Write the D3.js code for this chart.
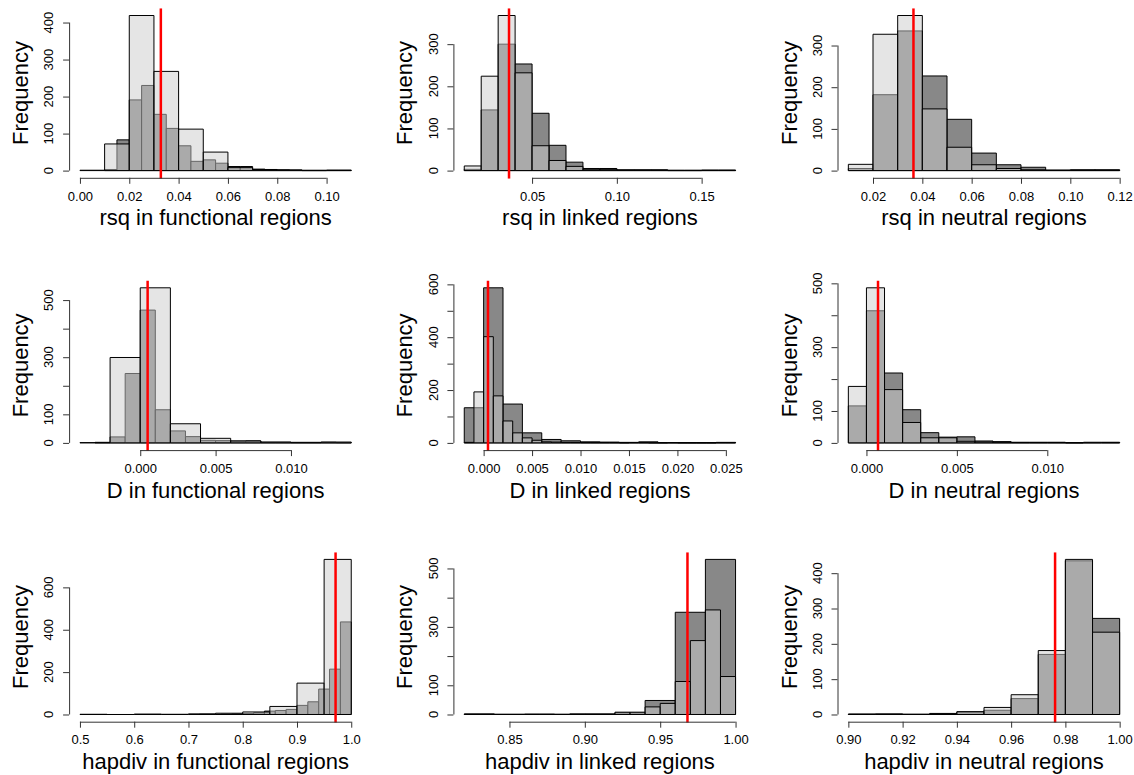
<!DOCTYPE html>
<html>
<head>
<meta charset="utf-8">
<script src="https://cdn.jsdelivr.net/npm/d3@7"></script>
<style>
  body { margin: 0; background: #fff; }
  svg { display: block; }
  text { font-family: "Liberation Sans", Arial, Helvetica, sans-serif; fill: #000; }
</style>
</head>
<body>
<svg id="chart" width="1134" height="775"></svg>
<script>
// ---- Bin counts (frequency per bin). "Light" is drawn on top, semi-transparent. ----
// rsq
const rsqFunctionalLight = [1, 72, 419, 268, 112, 50, 8, 3, 2, 1, 1];             // 0.00 by 0.01
const rsqFunctionalDark  = [3, 83, 191, 230, 152, 114, 67, 25, 29, 20, 11, 11, 4, 3, 2, 1, 0, 0, 1, 1]; // 0.01 by 0.005
const rsqLinkedLight     = [11, 224, 368, 232, 59, 24, 10, 2, 3, 1, 1, 1, 0, 0, 1, 1]; // 0.01 by 0.01
const rsqLinkedDark      = [3, 144, 300, 253, 136, 60, 20, 5, 5, 2, 2, 2, 1, 1, 1, 1];
const rsqNeutralLight    = [15, 327, 372, 148, 56, 14, 5, 2, 1, 1, 1];             // 0.01 by 0.01
const rsqNeutralDark     = [5, 182, 335, 227, 123, 42, 14, 8, 1, 2, 2];
// D
const dFunctionalLight   = [1, 299, 543, 67, 16, 7, 3, 2, 3];                      // -0.004 by 0.002
const dFunctionalDark    = [2, 21, 243, 465, 116, 42, 22, 9, 8, 6, 7, 2, 2, 1, 1, 2, 1]; // -0.003 by 0.001
const dLinkedLight       = [2, 193, 402, 178, 83, 38, 19, 10, 4, 3, 2, 2, 1, 1, 1, 1, 0, 1, 1, 0, 0, 1, 0, 0, 0, 0, 1, 1]; // -0.002 by 0.001
const dLinkedDark        = [133, 587, 147, 38, 13, 8, 4, 3, 2, 4, 1, 1, 1, 2];     // -0.002 by 0.002
const dNeutralLight      = [177, 486, 167, 64, 16, 16, 5, 3, 2, 1, 1, 1, 0, 2, 1]; // -0.001 by 0.001
const dNeutralDark       = [116, 414, 219, 104, 32, 18, 19, 6, 4, 2, 2, 2, 1, 1, 2];
// hapdiv
const hapFunctionalLight = [1, 0, 2, 1, 3, 6, 12, 38, 148, 732];                   // 0.50 by 0.05
const hapFunctionalDark  = [1, 1, 2, 3, 4, 8, 16, 19, 24, 43, 60, 120, 214, 437];  // 0.72 by 0.02
const hapLinkedLight     = [1, 1, 0, 0, 1, 1, 0, 2, 1, 1, 8, 8, 26, 38, 113, 253, 358, 130]; // 0.82 by 0.01
const hapLinkedDark      = [2, 1, 1, 1, 2, 6, 48, 350, 531];                       // 0.82 by 0.02
const hapNeutralLight    = [1, 2, 0, 2, 8, 20, 56, 181, 439, 233];                 // 0.90 by 0.01
const hapNeutralDark     = [1, 0, 1, 3, 7, 12, 45, 170, 435, 272];

// Reference value marked in red on each panel
const markValues = [0.0328, 0.0364, 0.0364, 0.00049, 0.00045, 0.00064, 0.9711, 0.9681, 0.9762];

// Axis titles
const xTitles = [
  "rsq in functional regions", "rsq in linked regions", "rsq in neutral regions",
  "D in functional regions", "D in linked regions", "D in neutral regions",
  "hapdiv in functional regions", "hapdiv in linked regions", "hapdiv in neutral regions"
];

// Tick labels
const xTickLabels = [
  ["0.00", "0.02", "0.04", "0.06", "0.08", "0.10"],
  ["0.05", "0.10", "0.15"],
  ["0.02", "0.04", "0.06", "0.08", "0.10", "0.12"],
  ["0.000", "0.005", "0.010"],
  ["0.000", "0.005", "0.010", "0.015", "0.020", "0.025"],
  ["0.000", "0.005", "0.010"],
  ["0.5", "0.6", "0.7", "0.8", "0.9", "1.0"],
  ["0.85", "0.90", "0.95", "1.00"],
  ["0.90", "0.92", "0.94", "0.96", "0.98", "1.00"]
];
const yTicks = [
  [0, 100, 200, 300, 400],
  [0, 100, 200, 300],
  [0, 100, 200, 300],
  [0, 100, 200, 300, 400, 500],
  [0, 100, 200, 300, 400, 500, 600],
  [0, 100, 200, 300, 400, 500],
  [0, 200, 400, 600],
  [0, 100, 200, 300, 400, 500],
  [0, 100, 200, 300, 400]
];
const yTickLabels = [
  ["0", "100", "200", "300", "400"],
  ["0", "100", "200", "300"],
  ["0", "100", "200", "300"],
  ["0", "100", "300", "500"],
  ["0", "200", "400", "600"],
  ["0", "100", "300", "500"],
  ["0", "200", "400", "600"],
  ["0", "100", "300", "500"],
  ["0", "100", "200", "300", "400"]
];

// Histogram break specifications (first break, bin width) per series
const panels = [
  { light: [0.00, 0.01, rsqFunctionalLight],   dark: [0.01, 0.005, rsqFunctionalDark] },
  { light: [0.01, 0.01, rsqLinkedLight],       dark: [0.01, 0.01, rsqLinkedDark] },
  { light: [0.01, 0.01, rsqNeutralLight],      dark: [0.01, 0.01, rsqNeutralDark] },
  { light: [-0.004, 0.002, dFunctionalLight],  dark: [-0.003, 0.001, dFunctionalDark] },
  { light: [-0.002, 0.001, dLinkedLight],      dark: [-0.002, 0.002, dLinkedDark] },
  { light: [-0.001, 0.001, dNeutralLight],     dark: [-0.001, 0.001, dNeutralDark] },
  { light: [0.50, 0.05, hapFunctionalLight],   dark: [0.72, 0.02, hapFunctionalDark] },
  { light: [0.82, 0.01, hapLinkedLight],       dark: [0.82, 0.02, hapLinkedDark] },
  { light: [0.90, 0.01, hapNeutralLight],      dark: [0.90, 0.01, hapNeutralDark] }
].map((p, i) => ({ ...p, title: xTitles[i], mark: markValues[i],
  xTicks: xTickLabels[i], yTicks: yTicks[i], yLabels: yTickLabels[i] }));

// ---- Layout ----
const colLeft = [69.1, 453.4, 837.5];
const rowTop = [9.3, 281.6, 553.2];
const plotW = 293, plotH = 167.5;

const svg = d3.select("#chart");
const defs = svg.append("defs");

function toBins(spec) {
  const [start, step, counts] = spec;
  return counts.map((c, k) => ({
    x0: +(start + k * step).toFixed(6),
    x1: +(start + (k + 1) * step).toFixed(6),
    n: c
  }));
}

panels.forEach((p, i) => {
  const left = colLeft[i % 3], top = rowTop[Math.floor(i / 3)];
  const right = left + plotW, bottom = top + plotH;

  const lightBins = toBins(p.light), darkBins = toBins(p.dark);
  const all = lightBins.concat(darkBins);
  const lo = d3.min(all, d => d.x0), hi = d3.max(all, d => d.x1);
  const pad = (hi - lo) * 0.04;
  const x = d3.scaleLinear().domain([lo - pad, hi + pad]).range([left, right]);
  const ymax = d3.max(all, d => d.n);
  const y = d3.scaleLinear().domain([-0.04 * ymax, 1.04 * ymax]).range([bottom, top]);

  const clipId = "clip" + i;
  defs.append("clipPath").attr("id", clipId)
    .append("rect").attr("x", left - 1).attr("y", top - 1)
    .attr("width", plotW + 2).attr("height", plotH + 3);

  const g = svg.append("g");
  const plot = g.append("g").attr("clip-path", `url(#${clipId})`);

  const barPath = d => {
    const pth = d3.path();
    pth.moveTo(x(d.x0), y(0));
    pth.lineTo(x(d.x0), y(d.n));
    pth.lineTo(x(d.x1), y(d.n));
    pth.lineTo(x(d.x1), y(0));
    pth.closePath();
    return pth.toString();
  };

  // darker histogram underneath
  plot.append("g").selectAll("path").data(darkBins).join("path")
    .attr("d", barPath)
    .attr("fill", "#888888")
    .attr("stroke", "#000").attr("stroke-width", 1);

  // lighter, translucent histogram on top
  plot.append("g").selectAll("path").data(lightBins).join("path")
    .attr("d", barPath)
    .attr("fill", "rgba(204,204,204,0.5)")
    .attr("stroke", "#000").attr("stroke-width", 1);

  // red reference line
  plot.append("line")
    .attr("x1", x(p.mark)).attr("x2", x(p.mark))
    .attr("y1", top - 1).attr("y2", bottom + 2)
    .attr("stroke", "#ff0000").attr("stroke-width", 2.5);

  // x axis
  const xVals = p.xTicks.map(Number);
  const xAxis = d3.axisBottom(x).tickValues(xVals).tickSize(6).tickSizeOuter(0)
    .tickPadding(7.5).tickFormat((d, k) => p.xTicks[k]);
  const gx = g.append("g").attr("transform", `translate(0,${bottom + 1})`).call(xAxis);
  gx.select(".domain").attr("d", `M${x(xVals[0])},0.5H${x(xVals[xVals.length - 1])}`);
  gx.selectAll("path, line").attr("stroke", "#333");
  gx.selectAll("text").attr("font-size", 13)
    .attr("font-family", '"Liberation Sans", Arial, Helvetica, sans-serif').attr("fill", "#000");
  gx.attr("font-family", null).attr("font-size", null);

  // y axis (labels drawn rotated, parallel to the axis)
  const yAxis = d3.axisLeft(y).tickValues(p.yTicks).tickSize(6).tickSizeOuter(0).tickFormat("");
  const gy = g.append("g").attr("transform", `translate(${left},0)`).call(yAxis);
  gy.select(".domain").attr("d", `M0.5,${y(p.yTicks[0])}V${y(p.yTicks[p.yTicks.length - 1])}`);
  gy.selectAll("path, line").attr("stroke", "#333");
  gy.selectAll("text").remove();
  g.append("g").selectAll("text").data(p.yLabels).join("text")
    .attr("transform", d => `translate(${left - 15.7},${y(+d)}) rotate(-90)`)
    .attr("text-anchor", "middle")
    .attr("font-size", 13)
    .text(d => d);

  // axis titles
  g.append("text")
    .attr("x", (left + right) / 2).attr("y", bottom + 48.5)
    .attr("text-anchor", "middle").attr("font-size", 22)
    .text(p.title);
  g.append("text")
    .attr("transform", `translate(${left - 41},${(top + bottom) / 2}) rotate(-90)`)
    .attr("text-anchor", "middle").attr("font-size", 22)
    .text("Frequency");
});
</script>
</body>
</html>
